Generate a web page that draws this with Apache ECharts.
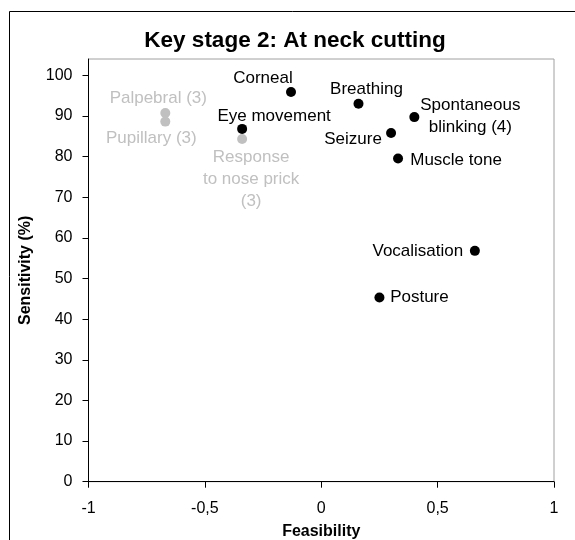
<!DOCTYPE html>
<html>
<head>
<meta charset="utf-8">
<script src="https://cdn.jsdelivr.net/npm/echarts@6/dist/echarts.min.js"></script>
<style>
  html, body { margin: 0; padding: 0; background: #fff; }
  #chart { width: 575px; height: 540px; }
</style>
</head>
<body>
<div id="chart"></div>
<script>
// measures and their position on the feasibility / sensitivity plane
const names = ['Corneal', 'Breathing', 'Spontaneous\nblinking (4)', 'Seizure', 'Muscle tone',
  'Eye movement', 'Vocalisation', 'Posture',
  'Palpebral (3)', 'Pupillary (3)', 'Response\nto nose prick\n(3)'];
const feasibility = [-0.13, 0.16, 0.4, 0.3, 0.33, -0.34, 0.66, 0.25, -0.67, -0.67, -0.34];
const sensitivity = [95.9, 93.0, 89.7, 85.8, 79.5, 86.8, 56.8, 45.3, 90.7, 88.6, 84.3];
// true = shown in grey in the original
const faded = [false, false, false, false, false, false, false, false, true, true, true];

const xTicks = [-1, -0.5, 0, 0.5, 1];
const yTicks = [0, 10, 20, 30, 40, 50, 60, 70, 80, 90, 100];

// label placement: text centre relative to the dot centre, in px
const labelShift = {
  'Corneal': [-28, -14],
  'Breathing': [8, -14],
  'Spontaneous\nblinking (4)': [56, -1],
  'Seizure': [-38, 6],
  'Muscle tone': [58, 2],
  'Eye movement': [32, -13],
  'Vocalisation': [-57, 0],
  'Posture': [40, 0],
  'Palpebral (3)': [-7, -15],
  'Pupillary (3)': [-14, 17],
  'Response\nto nose prick\n(3)': [9, 40]
};

const font = 'Liberation Sans, Arial, sans-serif';
const symSize = 10;

function buildSeries(isFaded) {
  const color = isFaded ? '#c0c0c0' : '#000000';
  const data = [];
  for (let i = 0; i < names.length; i++) {
    if (faded[i] !== isFaded) continue;
    const s = labelShift[names[i]];
    data.push({
      name: names[i],
      value: [feasibility[i], sensitivity[i]],
      label: {
        show: true,
        formatter: '{b}',
        position: [symSize / 2 + s[0], symSize / 2 + s[1]],
        align: 'center',
        verticalAlign: 'middle',
        color: color,
        fontFamily: font,
        fontSize: 17,
        lineHeight: 22
      }
    });
  }
  return {
    type: 'scatter',
    symbol: 'circle',
    symbolSize: symSize,
    itemStyle: { color: color, opacity: 1 },
    z: isFaded ? 2 : 3,
    data: data
  };
}

const chart = echarts.init(document.getElementById('chart'));
chart.setOption({
  backgroundColor: '#fff',
  animation: false,
  title: {
    text: 'Key stage 2: At neck cutting',
    left: 290,
    top: 24,
    textAlign: 'center',
    textStyle: { fontFamily: font, fontSize: 22.5, fontWeight: 'bold', color: '#000' }
  },
  grid: {
    left: 88.5, right: 21, top: 59, bottom: 58.3,
    outerBoundsMode: 'none',
    containLabel: false,
    show: true, borderColor: '#a0a0a0', borderWidth: 1
  },
  xAxis: {
    type: 'value',
    min: -1, max: 1, interval: 0.5,
    name: 'Feasibility',
    nameLocation: 'middle',
    nameGap: 42,
    nameTextStyle: { fontFamily: font, fontSize: 16, fontWeight: 'bold', color: '#000' },
    splitLine: { show: false },
    axisLine: { onZero: false, lineStyle: { color: '#000', width: 1 } },
    axisTick: { show: true, length: 6, inside: false, lineStyle: { color: '#000' }, customValues: xTicks },
    axisLabel: {
      customValues: xTicks,
      margin: 19,
      color: '#000', fontFamily: font, fontSize: 16,
      formatter: v => String(v).replace('.', ',')
    }
  },
  yAxis: {
    type: 'value',
    min: 0, max: 104,
    name: 'Sensitivity (%)',
    nameLocation: 'middle',
    nameGap: 55,
    nameTextStyle: { fontFamily: font, fontSize: 16, fontWeight: 'bold', color: '#000' },
    splitLine: { show: false },
    axisLine: { show: true, onZero: false, lineStyle: { color: '#000', width: 1 } },
    axisTick: { show: true, length: 6, inside: false, lineStyle: { color: '#000' }, customValues: yTicks },
    axisLabel: {
      customValues: yTicks,
      margin: 16,
      color: '#000', fontFamily: font, fontSize: 16
    }
  },
  graphic: [{
    type: 'rect',
    silent: true,
    shape: { x: 9.5, y: 11.5, width: 700, height: 700 },
    style: { fill: null, stroke: '#000', lineWidth: 1 }
  }],
  series: [buildSeries(true), buildSeries(false)]
});
</script>
</body>
</html>
